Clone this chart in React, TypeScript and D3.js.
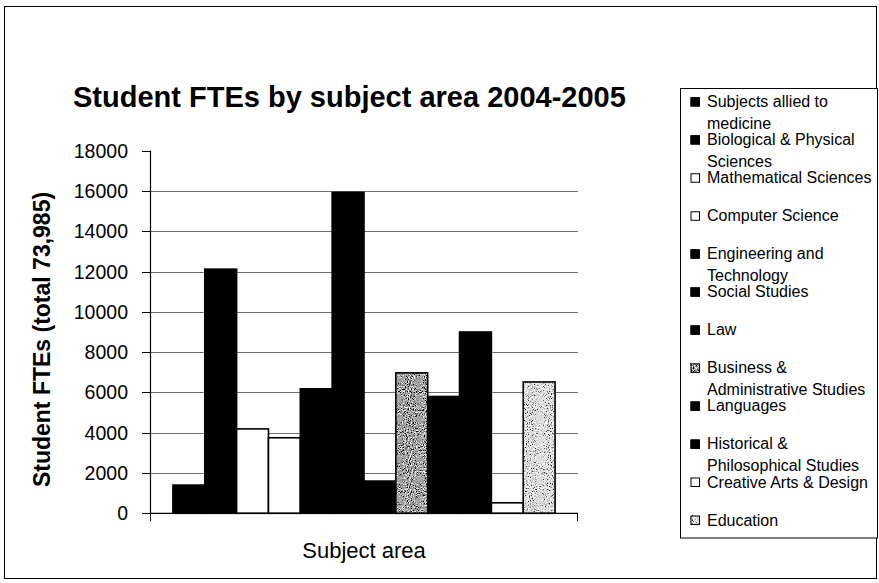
import React from "react";
import * as d3 from "d3";

const subjects = [
  "Subjects allied to\nmedicine",
  "Biological & Physical\nSciences",
  "Mathematical Sciences",
  "Computer Science",
  "Engineering and\nTechnology",
  "Social Studies",
  "Law",
  "Business &\nAdministrative Studies",
  "Languages",
  "Historical &\nPhilosophical Studies",
  "Creative Arts & Design",
  "Education",
];
const fte = [1400, 12120, 4190, 3750, 6180, 15930, 1600, 6970, 5800, 9000, 520, 6520];
const yTickValues = [0, 2000, 4000, 6000, 8000, 10000, 12000, 14000, 16000, 18000];
const chartTitle = "Student FTEs by subject area 2004-2005";
const yTitle = "Student FTEs (total 73,985)";
const xTitle = "Subject area";

// style per series (kept separate from data)
const seriesStyle = ["black", "black", "white", "white", "black", "black", "black", "stipDark", "black", "black", "white", "stipLight"];

const FONT = "'Liberation Sans', Arial, Helvetica, sans-serif";

export default function App() {
  const W = 879, H = 583;
  const left = 150, right = 578, top = 150.7, bottom = 513.3;
  const y = d3.scaleLinear().domain([0, 18000]).range([bottom, top]);
  const x = d3.scaleBand<string>().domain(subjects).range([left, right]).paddingInner(0).paddingOuter(0.72);

  const fillFor = (s: string) => (s === "black" ? "#000" : s === "white" ? "#fff" : s === "stipDark" ? "#a4a4a4" : "#d8d8d8");
  const filterFor = (s: string) => (s === "stipDark" ? "url(#stipA)" : s === "stipLight" ? "url(#stipB)" : undefined);

  const legendTop = 101.7, legendStep = 38.03, lineGap = 22;

  return (
    <div style={{ position: "absolute", left: 0, top: 0 }}>
      <svg width={W} height={H} style={{ display: "block", background: "#fff" }} fontFamily={FONT}>
        <defs>
          <filter id="stipA" x="0" y="0" width="1" height="1">
            <feTurbulence type="fractalNoise" baseFrequency="0.95" numOctaves="2" seed="4" result="noise" />
            <feColorMatrix in="noise" type="matrix" values="0 0 0 0 0  0 0 0 0 0  0 0 0 0 0  6 0 0 0 -3.1" result="dA" />
            <feFlood floodColor="#000" result="blk" />
            <feComposite in="blk" in2="dA" operator="in" result="darkDots" />
            <feColorMatrix in="noise" type="matrix" values="0 0 0 0 0  0 0 0 0 0  0 0 0 0 0  -6 0 0 0 2.7" result="wA" />
            <feFlood floodColor="#fff" result="wht" />
            <feComposite in="wht" in2="wA" operator="in" result="whiteDots" />
            <feMerge>
              <feMergeNode in="SourceGraphic" />
              <feMergeNode in="darkDots" />
              <feMergeNode in="whiteDots" />
            </feMerge>
          </filter>
          <filter id="stipB" x="0" y="0" width="1" height="1">
            <feTurbulence type="fractalNoise" baseFrequency="0.95" numOctaves="2" seed="9" result="noise" />
            <feColorMatrix in="noise" type="matrix" values="0 0 0 0 0  0 0 0 0 0  0 0 0 0 0  6 0 0 0 -3.4" result="dA" />
            <feFlood floodColor="#333" result="blk" />
            <feComposite in="blk" in2="dA" operator="in" result="darkDots" />
            <feColorMatrix in="noise" type="matrix" values="0 0 0 0 0  0 0 0 0 0  0 0 0 0 0  -6 0 0 0 3.0" result="wA" />
            <feFlood floodColor="#fff" result="wht" />
            <feComposite in="wht" in2="wA" operator="in" result="whiteDots" />
            <feMerge>
              <feMergeNode in="SourceGraphic" />
              <feMergeNode in="darkDots" />
              <feMergeNode in="whiteDots" />
            </feMerge>
          </filter>
        </defs>

        {/* outer frame */}
        <rect x={4.5} y={6.5} width={872} height={572} fill="#fff" stroke="#000" strokeWidth={1} />

        {/* title */}
        <text x={73} y={107} fontSize={29} fontWeight="bold" fill="#000">{chartTitle}</text>

        {/* gridlines */}
        {yTickValues.filter((v) => v > 0 && v < 18000).map((v) => (
          <line key={"g" + v} x1={left} x2={right} y1={Math.round(y(v)) + 0.5} y2={Math.round(y(v)) + 0.5} stroke="#6e6e6e" strokeWidth={1} />
        ))}

        {/* bars */}
        {subjects.map((s, i) => {
          const st = seriesStyle[i];
          const bx = x(s)!;
          const bw = x.bandwidth();
          const by = y(fte[i]);
          const bh = y(0) - by;
          return (
            <g key={"b" + i}>
              <rect x={bx} y={by} width={bw} height={bh} fill={fillFor(st)} filter={filterFor(st)} />
              <rect x={bx} y={by} width={bw} height={bh} fill="none" stroke="#000" strokeWidth={1.6} />
            </g>
          );
        })}

        {/* y axis */}
        <line x1={left + 0.5} x2={left + 0.5} y1={top} y2={bottom} stroke="#000" strokeWidth={1.2} />
        {yTickValues.map((v) => (
          <g key={"t" + v}>
            <line x1={left - 8} x2={left} y1={Math.round(y(v)) + 0.5} y2={Math.round(y(v)) + 0.5} stroke="#000" strokeWidth={1} />
            <text x={128} y={y(v) + 7} fontSize={19.5} textAnchor="end" fill="#000">{String(v)}</text>
          </g>
        ))}

        {/* x axis */}
        <line x1={left} x2={right} y1={bottom} y2={bottom} stroke="#000" strokeWidth={1.2} />
        <line x1={left + 0.5} x2={left + 0.5} y1={bottom} y2={bottom + 8} stroke="#000" strokeWidth={1} />
        <line x1={right - 0.5} x2={right - 0.5} y1={bottom} y2={bottom + 8} stroke="#000" strokeWidth={1} />

        {/* axis titles */}
        <text transform={`translate(50,339.5) rotate(-90)`} textAnchor="middle" fontSize={23} fontWeight="bold" fill="#000">{yTitle}</text>
        <text x={(left + right) / 2} y={558} textAnchor="middle" fontSize={22} fill="#000">{xTitle}</text>

        {/* legend */}
        <rect x={680.5} y={88.5} width={197} height={449.5} fill="#fff" stroke="#000" strokeWidth={1} />
        {subjects.map((s, i) => {
          const cy = legendTop + i * legendStep;
          const st = seriesStyle[i];
          return (
            <g key={"l" + i}>
              <rect x={690.5} y={cy - 4.5} width={9} height={9} fill={fillFor(st)} filter={filterFor(st)} />
              <rect x={691} y={cy - 4} width={8.5} height={8.5} fill="none" stroke="#000" strokeWidth={1} />
              {s.split("\n").map((line, j) => (
                <text key={j} x={707} y={cy + 5.5 + j * lineGap} fontSize={16} fill="#000">{line}</text>
              ))}
            </g>
          );
        })}
      </svg>
    </div>
  );
}
